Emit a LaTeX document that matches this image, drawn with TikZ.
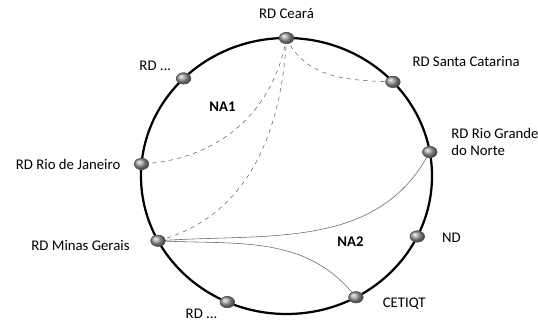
\documentclass[tikz,border=0pt]{standalone}
\usepackage{fontspec}
\setmainfont{Carlito}
\usetikzlibrary{shapes}

\begin{document}
\begin{tikzpicture}
		\tikzstyle{ball}=[ellipse, draw=black!65, shading=ball, ball color=gray!75, minimum width=0.36cm, minimum height=0.28cm, inner sep=0pt]
		\tikzstyle{every label}=[font=\fontsize{10.5}{12.5}\selectfont, text=black]
		\tikzstyle{area}=[font=\fontsize{10.5}{12.5}\selectfont\bfseries]
		\tikzstyle{weak}=[dashed, gray!80!black, thin]
		\tikzstyle{strong}=[gray!80!black, thin]

		\useasboundingbox (-7.1625,-3.6) rectangle (6.2875,4.4);

		\draw[line width=1.6pt] (0,0) ellipse (3.6375cm and 3.45cm);

		\node[ball, label={[label distance=0.22cm]90:RD Ceará}] (ceara) at (90:3.6375cm and 3.45cm) {};
		\node[ball, label={[label distance=0.02cm]160:RD ...}] (rdtop) at (135:3.6375cm and 3.45cm) {};
		\node[ball, label={[anchor=west, label distance=0.18cm, yshift=0.52cm]0:RD Santa Catarina}] (santa) at (43:3.6375cm and 3.45cm) {};
		\node[ball, label={[align=left, anchor=west, label distance=0.23cm, yshift=0.25cm]0:RD Rio Grande\\do Norte}] (riogrande) at (10:3.6375cm and 3.45cm) {};
		\node[ball, label={[label distance=0.22cm]180:RD Rio de Janeiro}] (rio) at (175:3.6375cm and 3.45cm) {};
		\node[ball, label={[anchor=east, label distance=0.4cm, yshift=-0.125cm]180:RD Minas Gerais}] (minas) at (208:3.6375cm and 3.45cm) {};
		\node[ball, label={[anchor=east, inner sep=1pt, label distance=0.02cm, yshift=-0.29cm]180:RD ...}] (rdbottom) at (246:3.6375cm and 3.45cm) {};
		\node[ball, label={[anchor=west, label distance=0.36cm, yshift=-0.15cm]0:CETIQT}] (cetiqt) at (298.5:3.6375cm and 3.45cm) {};
		\node[ball, label={[anchor=west, label distance=0.31cm, yshift=-0.03cm]0:ND}] (nd) at (334:3.6375cm and 3.45cm) {};

		\node[area] (na1) at (-1.6,1.72) {NA1};
		\node[area] (na2) at (1.6,-1.65) {NA2};

		\draw[weak] (ceara.center) to[out=-65, in=178] (santa);
		\draw[weak] (ceara.center) to[out=-100, in=5] (rio);
		\draw[weak] (ceara.center) to[out=-93, in=15] (minas.center);
		\draw[strong] (minas.center) to[out=4, in=-118] (riogrande.center);
		\draw[strong] (minas.center) to[out=-3, in=128] (cetiqt.center);

		\foreach \n in {ceara, rdtop, santa, riogrande, rio, minas, rdbottom, cetiqt, nd}
			\node[ball] at (\n) {};

	\end{tikzpicture}
\end{document}
